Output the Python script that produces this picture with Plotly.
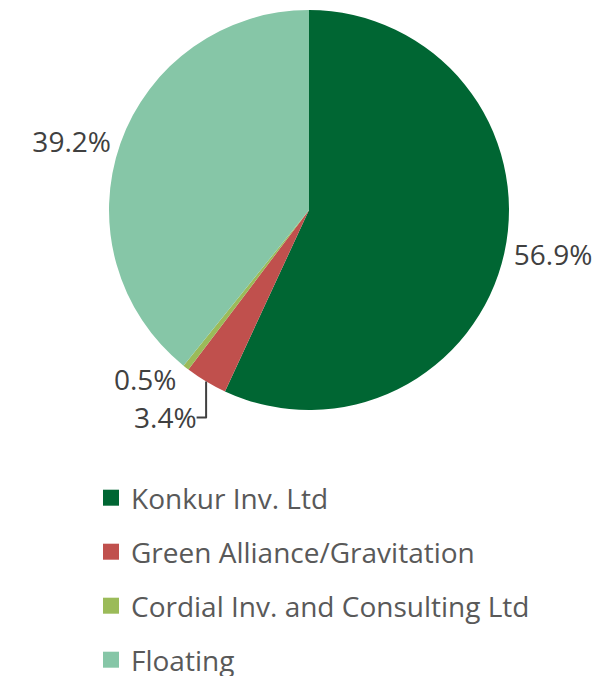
import plotly.graph_objects as go

# shareholder structure
holders = ["Konkur Inv. Ltd", "Green Alliance/Gravitation",
           "Cordial Inv. and Consulting Ltd", "Floating"]
shares = [56.9, 3.4, 0.5, 39.2]
colors = ["#006633", "#C0504D", "#9BBB59", "#86C6A7"]

W, H = 615, 676
font = "Open Sans"

fig = go.Figure()

# page has an 8px body margin, so positions are shifted up/left by 8
fig.add_trace(go.Pie(
    labels=holders, values=shares,
    marker=dict(colors=colors, line=dict(width=0)),
    sort=False, direction="clockwise", rotation=0,
    textposition="outside", texttemplate="%{percent:.1%}",
    textfont=dict(family=font, size=28, color="#404040"),
    showlegend=False, hoverinfo="label+percent",
    domain=dict(x=[101 / W, 501 / W], y=[1 - 402 / H, 1 - 2 / H]),
))

# legend entries, one legend per row so the spacing matches
legend_names = ["legend", "legend2", "legend3", "legend4"]
for i, (name, col) in enumerate(zip(holders, colors)):
    fig.add_trace(go.Scatter(
        x=[None], y=[None], mode="markers", name=name,
        marker=dict(symbol="square", size=18, color=col),
        legend=legend_names[i], showlegend=True,
    ))

layout_legends = {}
for i, ln in enumerate(legend_names):
    layout_legends[ln] = dict(
        x=83 / W, xanchor="left",
        y=1 - (490 + 54 * i) / H, yanchor="middle",
        font=dict(family=font, size=28, color="#595959"),
        bgcolor="rgba(0,0,0,0)", itemwidth=30,
    )

fig.update_layout(
    width=W, height=H,
    margin=dict(l=0, r=0, t=0, b=0, autoexpand=False),
    paper_bgcolor="white", plot_bgcolor="white",
    xaxis=dict(visible=False), yaxis=dict(visible=False),
    **layout_legends,
)

fig.write_html("out.html")
